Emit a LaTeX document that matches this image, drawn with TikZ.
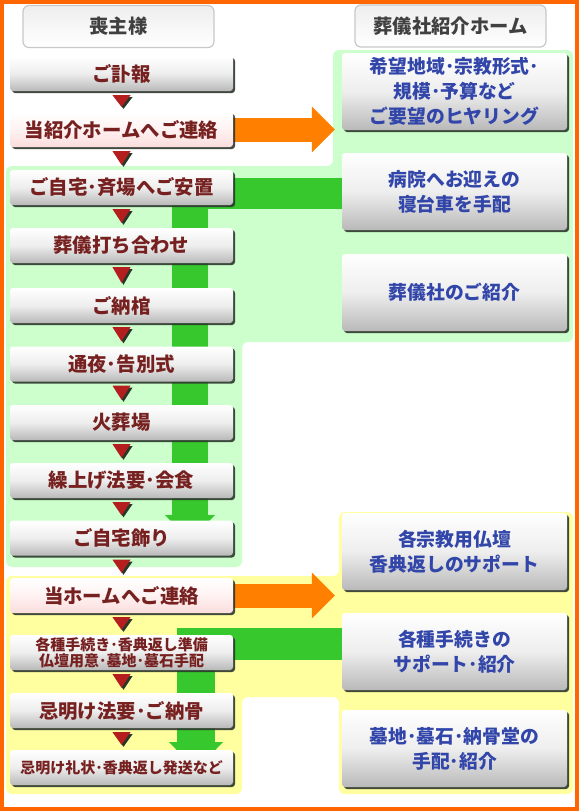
\documentclass[tikz,border=0pt]{standalone}
\usepackage{fontspec}
\setmainfont{Noto Sans CJK JP}
\usetikzlibrary{shadows,arrows.meta,calc}
\definecolor{lred}{RGB}{118,32,32}
\definecolor{rblue}{RGB}{50,70,170}
\definecolor{hgray}{RGB}{64,64,64}
\definecolor{hborder}{RGB}{200,200,200}
\definecolor{htop}{RGB}{238,238,238}
\definecolor{lgreen}{RGB}{204,255,204}
\definecolor{lyellow}{RGB}{255,255,160}
\definecolor{gband}{RGB}{55,200,45}
\definecolor{obar}{RGB}{255,128,0}
\definecolor{oframe}{RGB}{255,102,0}
\definecolor{tri}{RGB}{180,30,30}
\definecolor{tshadow}{RGB}{40,55,40}
\definecolor{bshadow}{RGB}{45,55,45}
\definecolor{gbot}{RGB}{185,185,185}
\definecolor{gmid}{RGB}{238,238,238}
\definecolor{pbot}{RGB}{250,220,220}
\definecolor{pmid}{RGB}{255,242,242}
\pgfdeclarelayer{regions}
\pgfdeclarelayer{bands}
\pgfsetlayers{regions,bands,main}
\tikzset{
  boxbase/.style={rounded corners=3pt, draw=none, inner sep=0pt, align=center,
    drop shadow={shadow xshift=2pt, shadow yshift=-2pt, fill=bshadow, opacity=0.9}},
  lbox/.style={boxbase, minimum width=223pt, minimum height=35pt,
    top color=white, bottom color=gbot, middle color=gmid, text=lred,
    font=\bfseries\fontsize{19.4}{22}\selectfont},
  pbox/.style={lbox, top color=white, bottom color=pbot, middle color=pmid},
  rbox/.style={boxbase, minimum width=225pt, minimum height=77pt,
    top color=white, bottom color=gbot, middle color=gmid, text=rblue,
    font=\bfseries\fontsize{18.8}{25}\selectfont},
  hbox/.style={rounded corners=6pt, draw=hborder, line width=1.2pt,
    minimum width=191pt, minimum height=42pt, top color=htop, bottom color=white,
    text=hgray, font=\bfseries\fontsize{19.3}{22}\selectfont},
  gbar/.style={draw=gband},
  obararrow/.style={draw=obar, line width=24pt, shorten >=7pt,
    -{Triangle[width=46pt,length=23pt,line width=0pt]}}
}
\begin{document}
\begin{tikzpicture}[x=1pt,y=-1pt]
\useasboundingbox (0,0) rectangle (579,812);
\begin{pgfonlayer}{regions}
\fill[white] (0,0) rectangle (579,812);
\draw[oframe, line width=4pt] (2,2) rectangle (577,809);
\fill[lgreen, rounded corners=6pt] (6,166) -- (333,166) -- (333,50) -- (573,50) -- (573,342) -- (242,342) -- (242,567) -- (6,567) -- cycle;
\fill[lyellow, rounded corners=6pt] (6,576) -- (339,576) -- (339,512) -- (573,512) -- (573,794) -- (339,794) -- (339,697) -- (242,697) -- (242,794) -- (6,794) -- cycle;
\end{pgfonlayer}

% headers
\node[hbox] (h1) at (118.5,26.5) {喪主様};
\node[hbox] (h2) at (450.5,26) {葬儀社紹介ホーム};

% left column
\node[lbox] (b1) at (121.5,73.5) {ご訃報};
\node[pbox] (b2) at (121.5,129.5) {当紹介ホームへご連絡};
\node[lbox] (b3) at (121.5,187.5) {ご自宅･斉場へご安置};
\node[lbox] (b4) at (121.5,245.5) {葬儀打ち合わせ};
\node[lbox] (b5) at (121.5,305.5) {ご納棺};
\node[lbox] (b6) at (121.5,364) {通夜･告別式};
\node[lbox] (b7) at (121.5,422.5) {火葬場};
\node[lbox] (b8) at (121.5,480.5) {繰上げ法要･会食};
\node[lbox] (b9) at (121.5,538) {ご自宅飾り};
\node[pbox] (b10) at (121.5,595.5) {当ホームへご連絡};
\node[lbox, font=\bfseries\fontsize{15}{15.5}\selectfont] (b11) at (121.5,652.5) {各種手続き･香典返し準備\\仏壇用意･墓地･墓石手配};
\node[lbox] (b12) at (121.5,710.5) {忌明け法要･ご納骨};
\node[lbox, font=\bfseries\fontsize{15}{18}\selectfont] (b13) at (121.5,767.5) {忌明け礼状･香典返し発送など};

% right column
\node[rbox] (r1) at (454.5,91.5) {希望地域･宗教形式･\\規模･予算など\\ご要望のヒヤリング};
\node[rbox] (r2) at (454.5,191.5) {病院へお迎えの\\寝台車を手配};
\node[rbox] (r3) at (454.5,292.5) {葬儀社のご紹介};
\node[rbox] (r4) at (454.5,551.5) {各宗教用仏壇\\香典返しのサポート};
\node[rbox] (r5) at (454.5,651.5) {各種手続きの\\サポート･紹介};
\node[rbox] (r6) at (454.5,748.5) {墓地･墓石･納骨堂の\\手配･紹介};

% red triangles between steps
\foreach \a/\b in {b1/b2,b2/b3,b3/b4,b4/b5,b5/b6,b6/b7,b7/b8,b8/b9,b9/b10,b10/b11,b11/b12,b12/b13}{
  \fill[tshadow] ($(\a.south)+(-7,6)$) -- ($(\a.south)+(11,6)$) -- ($(\b.north)+(2,-3)$) -- cycle;
  \fill[tri] ($(\a.south)+(-9,4)$) -- ($(\a.south)+(9,4)$) -- ($(\b.north)+(0,-5)$) -- cycle;
}

% green and orange bands behind boxes
\coordinate (g1h) at (172,193.5);
\coordinate (g1c) at (190,178);
\coordinate (g1t) at (190,540);
\coordinate (g2h) at (177,644);
\coordinate (g2c) at (196,628);
\coordinate (g2t) at (196,770);
\begin{pgfonlayer}{bands}
\draw[gbar, line width=31pt] (r2.west |- g1h) -- (g1h);
\draw[gbar, line width=36pt, -{Triangle[width=50pt,length=25pt,line width=0pt]}] (g1c) -- (g1t);
\draw[gbar, line width=32pt] (r5.west |- g2h) -- (g2h);
\draw[gbar, line width=38pt, -{Triangle[width=54pt,length=28pt,line width=0pt]}] (g2c) -- (g2t);
\draw[obararrow] (b2.east) -- (b2.east -| r1.west);
\draw[obararrow] (b10.east) -- (b10.east -| r4.west);
\end{pgfonlayer}
\end{tikzpicture}
\end{document}
